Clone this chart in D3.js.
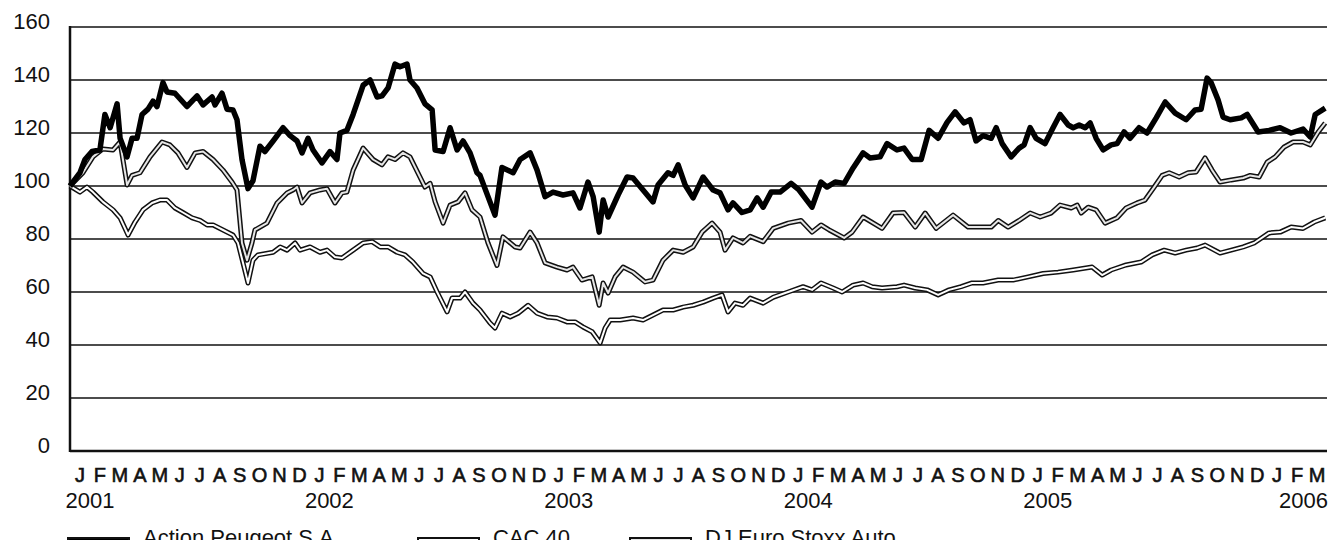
<!DOCTYPE html>
<html>
<head>
<meta charset="utf-8">
<script src="https://cdn.jsdelivr.net/npm/d3@7"></script>
<style>
    body { margin: 0; background: #fff; }
    svg { font-family: "Liberation Sans", Arial, sans-serif; }
    .y.label { font-size: 22px; }
    .month.label { font-size: 20px; stroke: #111; stroke-width: 0.6px; }
    .year.label { font-size: 22px; }
    .legend.label { font-size: 22px; }
</style>
</head>
<body>
<svg width="1340" height="540"></svg>
<script>
// months since Jan 2001, value (base 100)
const peugeot = [
    [0.0, 100], [0.5, 105], [0.75, 110], [1.1, 113], [1.5, 113.6], [1.75, 127], [2.01, 122], [2.36, 131],
    [2.51, 118], [2.86, 111], [3.11, 118], [3.36, 118], [3.61, 127], [3.91, 129], [4.16, 132], [4.36, 130],
    [4.66, 139], [4.86, 135.5], [5.26, 135], [5.86, 130], [6.37, 134], [6.67, 130.6], [7.12, 133.6], [7.27, 130.6],
    [7.62, 135], [7.87, 129], [8.17, 128.7], [8.37, 125], [8.62, 110], [8.92, 99], [9.17, 102], [9.52, 115],
    [9.77, 113], [10.18, 117], [10.68, 122], [11.03, 119], [11.38, 117], [11.63, 112.5], [11.93, 118], [12.18, 113.6],
    [12.63, 108.7], [13.03, 113], [13.38, 110], [13.53, 120], [13.88, 121], [14.19, 127], [14.69, 138], [15.04, 140],
    [15.39, 133.6], [15.64, 134], [15.94, 137], [16.29, 146], [16.54, 145], [16.89, 146], [17.04, 140], [17.39, 137],
    [17.79, 131], [18.15, 128.7], [18.3, 113.6], [18.7, 113], [19.05, 122], [19.4, 113.6], [19.7, 117], [20.05, 112.5],
    [20.4, 105], [20.55, 104], [21.3, 89], [21.65, 107], [22.21, 105], [22.56, 110], [23.06, 112.5], [23.41, 106],
    [23.81, 96], [24.21, 97.7], [24.71, 96.6], [25.21, 97.4], [25.56, 91.7], [25.96, 101.5], [26.22, 96], [26.52, 82.6],
    [26.72, 94.7], [26.97, 88.3], [27.47, 96.6], [27.92, 103.4], [28.22, 103], [28.72, 98.5], [29.22, 94], [29.47, 100.4],
    [29.97, 105], [30.23, 104], [30.48, 108], [30.83, 100.4], [31.23, 95.5], [31.73, 103.4], [32.23, 98.5], [32.58, 97.4],
    [32.98, 91], [33.23, 93.6], [33.68, 90], [34.09, 91], [34.44, 95.5], [34.74, 92], [35.14, 97.7], [35.59, 97.7],
    [36.14, 101], [36.54, 98.5], [37.19, 92], [37.64, 101.5], [37.94, 99.6], [38.35, 101.5], [38.8, 101], [39.25, 106.8],
    [39.75, 112.5], [40.1, 110.6], [40.6, 111], [40.95, 116], [41.45, 113.6], [41.8, 114.3], [42.21, 110], [42.66, 110],
    [43.06, 121], [43.51, 118], [43.96, 124], [44.36, 128], [44.81, 123.8], [45.11, 125], [45.41, 117], [45.76, 119],
    [46.17, 118], [46.42, 122], [46.72, 116], [47.17, 111], [47.57, 114.3], [47.82, 115.5], [48.12, 122], [48.42, 118],
    [48.87, 116], [49.27, 122], [49.62, 127], [50.03, 123], [50.28, 122], [50.58, 123], [50.88, 122], [51.13, 123.8],
    [51.43, 118], [51.78, 113.6], [52.18, 115.5], [52.48, 116], [52.83, 120.4], [53.13, 118], [53.58, 122], [53.98, 120],
    [54.44, 125.7], [54.89, 131.7], [55.39, 127.5], [55.94, 125], [56.39, 128.7], [56.69, 129], [56.99, 140.7], [57.19, 139],
    [57.54, 132.5], [57.79, 126], [58.15, 125], [58.7, 125.7], [59.0, 127], [59.55, 120.4], [60.1, 121], [60.65, 122],
    [61.2, 120], [61.8, 121.5], [62.16, 118.5], [62.41, 127], [62.91, 129.4]
];

const djStoxxAuto = [
    [0.0, 100], [0.65, 105], [1.15, 111], [1.65, 114], [2.16, 113.6], [2.51, 116.6], [2.86, 100.4], [3.11, 104],
    [3.51, 105], [4.01, 111], [4.61, 116.6], [5.01, 115.5], [5.41, 112.5], [5.86, 107], [6.27, 112.5], [6.67, 113],
    [7.17, 110], [7.67, 106], [8.12, 101.5], [8.37, 98.5], [8.62, 78.5], [8.87, 72], [9.12, 78.5], [9.27, 83.4],
    [9.87, 86], [10.38, 93.6], [10.88, 97.4], [11.18, 98.5], [11.38, 99.6], [11.63, 93.6], [12.03, 97.4], [12.53, 98.5],
    [12.88, 99], [13.28, 93.6], [13.63, 97.4], [13.88, 97.7], [14.19, 106], [14.69, 114.3], [15.19, 110], [15.64, 108],
    [15.94, 111], [16.29, 110], [16.69, 112.5], [17.04, 111], [17.19, 108.7], [17.79, 99.6], [18.05, 101], [18.3, 94],
    [18.7, 86], [19.05, 92.8], [19.45, 94], [19.8, 97.4], [20.15, 91], [20.55, 88.3], [20.95, 78.5], [21.4, 70],
    [21.7, 80.8], [22.31, 77], [22.56, 76.6], [23.06, 82.6], [23.41, 78.5], [23.81, 71], [24.41, 69.4], [24.91, 68.3],
    [25.21, 69.4], [25.66, 64.5], [26.17, 65.7], [26.52, 55], [26.72, 63.4], [26.97, 59.6], [27.32, 65.7], [27.72, 69.4],
    [28.22, 67.5], [28.82, 63.8], [29.22, 64.5], [29.72, 72], [30.23, 75.8], [30.73, 75], [31.23, 77], [31.68, 82.6],
    [32.18, 86], [32.58, 82.6], [32.83, 75.8], [33.23, 80.4], [33.73, 78.5], [34.09, 81], [34.74, 79], [35.24, 84],
    [35.99, 86], [36.64, 87], [37.19, 82.6], [37.64, 85.3], [38.05, 83.4], [38.8, 80.4], [39.2, 82.6], [39.75, 88.3],
    [40.7, 84], [41.25, 89.8], [41.8, 90], [42.36, 84.5], [42.86, 89.8], [43.41, 84], [44.26, 89], [45.01, 84.5],
    [45.46, 84.5], [46.17, 84.5], [46.52, 87], [47.02, 84.5], [47.57, 87], [48.12, 89.8], [48.62, 88.3], [49.17, 89.8],
    [49.62, 92.8], [50.18, 91.7], [50.48, 92.8], [50.68, 89.8], [51.03, 92], [51.43, 91], [51.88, 86], [52.48, 88],
    [52.93, 91.7], [53.48, 93.6], [53.88, 94.7], [54.34, 99.6], [54.74, 104], [55.09, 105], [55.59, 103.4], [56.04, 105],
    [56.44, 105.3], [56.89, 110.6], [57.24, 106], [57.64, 101.5], [58.2, 102.3], [58.8, 103], [59.15, 104], [59.6, 103.4],
    [60.0, 109], [60.4, 111], [60.85, 114.7], [61.3, 116.6], [61.8, 116.6], [62.16, 115.5], [62.56, 120.4], [62.91, 123.8]
];

const cac40 = [
    [0.0, 100], [0.5, 97.7], [0.85, 99.6], [1.15, 97.7], [1.65, 94], [2.16, 91], [2.51, 88], [2.91, 81.5],
    [3.26, 86.4], [3.66, 91], [4.11, 93.6], [4.51, 94.7], [4.86, 94.7], [5.26, 91.7], [5.66, 90], [6.12, 88],
    [6.52, 87], [6.87, 85.3], [7.17, 85.3], [7.67, 83.4], [8.17, 81.5], [8.42, 78.5], [8.67, 71], [8.92, 63.4],
    [9.17, 72], [9.42, 74], [10.18, 75], [10.53, 77], [10.88, 75.8], [11.28, 78.5], [11.53, 75.8], [12.03, 77],
    [12.53, 75], [12.88, 75.8], [13.28, 73.2], [13.63, 72.8], [14.19, 75.8], [14.69, 78.5], [15.14, 79], [15.54, 77],
    [15.94, 77], [16.39, 75], [16.79, 74], [17.19, 71.3], [17.69, 67], [18.05, 65.7], [18.4, 60], [18.9, 52.5],
    [19.15, 57.7], [19.55, 57.7], [19.8, 60], [20.2, 55.8], [20.55, 53.2], [21.05, 48.3], [21.3, 46.4], [21.65, 52],
    [22.06, 50.6], [22.46, 52], [22.96, 55], [23.41, 52], [23.91, 50.6], [24.41, 50.2], [24.91, 48.7], [25.31, 48.7],
    [25.71, 46.8], [26.17, 45], [26.57, 40.8], [26.82, 46.4], [27.07, 49.4], [27.57, 49.4], [28.22, 50.2], [28.72, 49.4],
    [29.22, 51.3], [29.72, 53.2], [30.23, 53.2], [30.73, 54.3], [31.23, 55], [31.73, 56.2], [32.23, 57.7], [32.68, 58.9],
    [32.98, 52.5], [33.33, 55.8], [33.73, 55], [34.09, 57.7], [34.74, 55.8], [35.24, 58], [35.99, 60], [36.74, 62],
    [37.19, 60.8], [37.64, 63.4], [38.25, 61.5], [38.7, 60], [39.25, 62.6], [39.75, 63.4], [40.2, 62], [40.7, 61.5],
    [41.45, 62], [41.8, 62.6], [42.36, 61.5], [42.96, 60.8], [43.51, 58.9], [44.06, 60.8], [44.66, 62], [45.21, 63.4],
    [45.76, 63.4], [46.52, 64.5], [47.27, 64.5], [48.02, 65.7], [48.77, 67], [49.52, 67.5], [50.28, 68.3], [51.23, 69.4],
    [51.73, 66.4], [52.18, 68.3], [52.93, 70.2], [53.68, 71.3], [54.24, 74], [54.84, 75.8], [55.39, 74.7], [55.94, 75.8],
    [56.49, 76.6], [56.89, 77.7], [57.64, 74.7], [58.2, 75.8], [58.8, 77], [59.35, 78.5], [60.1, 82.3], [60.65, 82.6],
    [61.2, 84.5], [61.8, 84], [62.36, 86.4], [62.91, 88]
];

const monthLetters = ['J', 'F', 'M', 'A', 'M', 'J', 'J', 'A', 'S', 'O', 'N', 'D'];
const years = [2001, 2002, 2003, 2004, 2005, 2006];
const yTicks = [0, 20, 40, 60, 80, 100, 120, 140, 160];
const monthCount = 63;

const legendItems = [
    { name: 'Action Peugeot S.A', key: 'peugeot' },
    { name: 'CAC 40', key: 'cac' },
    { name: 'DJ Euro Stoxx Auto', key: 'dj' }
];

var svg = d3.select('svg');

//x scale in months since Jan 2001
var xScale = d3.scaleLinear()
    .domain([0, monthCount])
    .range([70, 1327]);

//y scale
var yScale = d3.scaleLinear()
    .domain([0, 160])
    .range([451, 27]);

//gridlines
svg.append('g')
    .attr('class', 'grid')
    .selectAll('line')
    .data(yTicks.filter(d => d > 0))
    .enter()
    .append('line')
    .attr('x1', xScale(0))
    .attr('x2', xScale(monthCount))
    .attr('y1', d => yScale(d))
    .attr('y2', d => yScale(d))
    .style('stroke', '#111')
    .style('stroke-width', 1.6);

//y labels
var yAxis = d3.axisLeft(yScale)
    .tickValues(yTicks)
    .tickSize(0)
    .tickPadding(20);

svg.append('g')
    .attr('class', 'y axis')
    .attr('transform', 'translate(70,0)')
    .call(yAxis)
    .call(g => g.select('.domain').remove())
    .call(g => g.selectAll('text')
        .attr('class', 'y label')
        .attr('dy', 0)
        .attr('y', 1)
        .style('font-size', '22px')
        .style('fill', '#111'));

//axis lines
svg.append('line')
    .attr('x1', xScale(0))
    .attr('x2', xScale(0))
    .attr('y1', yScale(160) - 1)
    .attr('y2', yScale(0) + 1)
    .style('stroke', '#111')
    .style('stroke-width', 2.5);

svg.append('line')
    .attr('x1', xScale(0))
    .attr('x2', xScale(monthCount))
    .attr('y1', yScale(0))
    .attr('y2', yScale(0))
    .style('stroke', '#111')
    .style('stroke-width', 2.5);

//month letters
var months = d3.range(monthCount);
svg.append('g')
    .selectAll('text')
    .data(months)
    .enter()
    .append('text')
    .attr('class', 'month label')
    .attr('x', d => xScale(d + 0.5))
    .attr('y', 482)
    .attr('text-anchor', 'middle')
    .style('fill', '#111')
    .text(d => monthLetters[d % 12]);

//year labels
svg.append('g')
    .selectAll('text')
    .data(years)
    .enter()
    .append('text')
    .attr('class', 'year label')
    .attr('x', (d, i) => i === years.length - 1 ? xScale(monthCount) + 1 : xScale((d - 2001) * 12 + 1))
    .attr('y', 508)
    .attr('text-anchor', (d, i) => i === years.length - 1 ? 'end' : 'middle')
    .style('fill', '#111')
    .text(d => d);

//line generator
var line = d3.line()
    .x(d => xScale(d[0]))
    .y(d => yScale(d[1]))
    .curve(d3.curveLinear);

//double lines: black casing, light core
function doubleLine(data, core) {
    svg.append('path')
        .datum(data)
        .attr('d', line)
        .style('fill', 'none')
        .style('stroke', '#111')
        .style('stroke-width', 5)
        .style('stroke-linejoin', 'round');
    svg.append('path')
        .datum(data)
        .attr('d', line)
        .style('fill', 'none')
        .style('stroke', core)
        .style('stroke-width', 2)
        .style('stroke-linejoin', 'round');
}

doubleLine(cac40, '#fff');
doubleLine(djStoxxAuto, '#e6e6e6');

svg.append('path')
    .datum(peugeot)
    .attr('d', line)
    .style('fill', 'none')
    .style('stroke', '#000')
    .style('stroke-width', 5.5)
    .style('stroke-linejoin', 'round');

//legend
var legendX = [68, 418, 630];
var legend = svg.append('g')
    .selectAll('g')
    .data(legendItems)
    .enter()
    .append('g')
    .attr('transform', (d, i) => 'translate(' + [legendX[i], 538] + ')');

legend.append('rect')
    .attr('width', 61)
    .attr('height', 12)
    .style('fill', d => d.key === 'peugeot' ? '#000' : (d.key === 'dj' ? '#e6e6e6' : '#fff'))
    .style('stroke', '#111')
    .style('stroke-width', 2);

legend.append('text')
    .attr('class', 'legend label')
    .attr('x', 75)
    .attr('y', 7)
    .style('fill', '#111')
    .text(d => d.name);
</script>
</body>
</html>
